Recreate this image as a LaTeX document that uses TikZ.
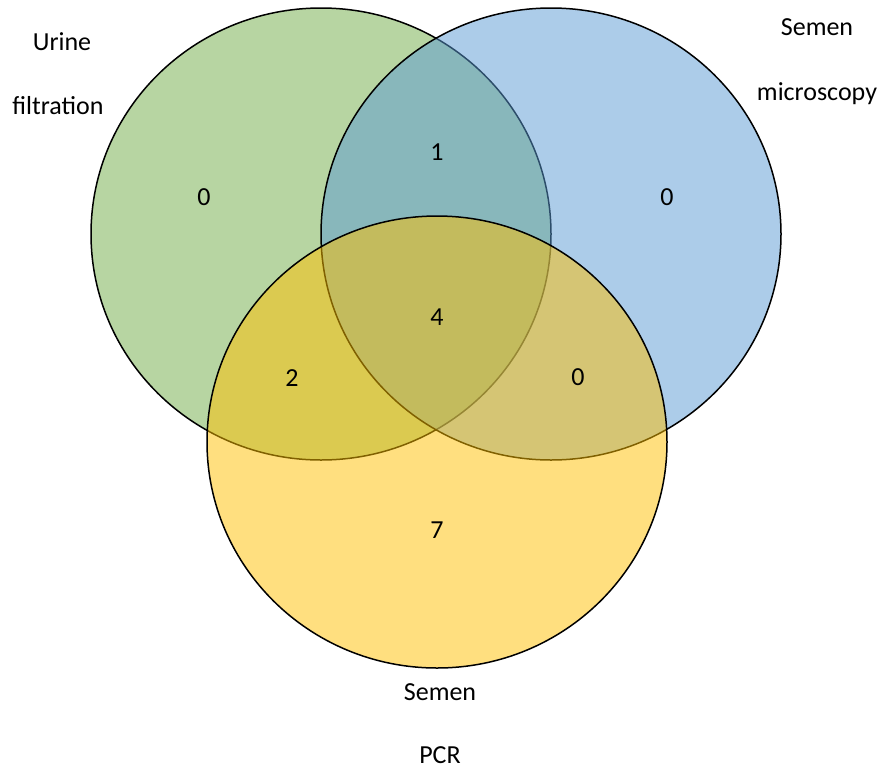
\documentclass[tikz,border=0pt]{standalone}
\usepackage{fontspec}
\setmainfont{Carlito}
\definecolor{vgreen}{RGB}{112,173,71}
\definecolor{vblue}{RGB}{91,155,213}
\definecolor{vyellow}{RGB}{255,192,0}
\begin{document}
\begin{tikzpicture}[x=1pt,y=-1pt,
  setshape/.style={draw=black,line width=1.5pt,fill opacity=0.5},
  lbl/.style={font=\fontsize{26}{31}\selectfont,inner sep=0pt}]
\useasboundingbox (0,0) rectangle (882,769);
\fill[white] (0,0) rectangle (882,769);
\path[setshape,fill=vgreen] (321,234) ellipse [x radius=230,y radius=226];
\path[setshape,fill=vblue] (551,234) ellipse [x radius=230,y radius=226];
\path[setshape,fill=vyellow] (437,442) ellipse [x radius=230,y radius=226];
\node[lbl] (u1) at (62,42) {Urine};
\node[lbl] (u2) at (58,106) {filtration};
\node[lbl] (s1) at (817,27) {Semen};
\node[lbl] (s2) at (817,94) {microscopy};
\node[lbl] (p1) at (440,692) {Semen};
\node[lbl] (p2) at (440,755) {PCR};
\node[lbl] (n1) at (204,197) {0};
\node[lbl] (n2) at (437,152) {1};
\node[lbl] (n3) at (667,197) {0};
\node[lbl] (n4) at (437,317) {4};
\node[lbl] (n5) at (292,378) {2};
\node[lbl] (n6) at (578,377) {0};
\node[lbl] (n7) at (437,530) {7};
\end{tikzpicture}
\end{document}
